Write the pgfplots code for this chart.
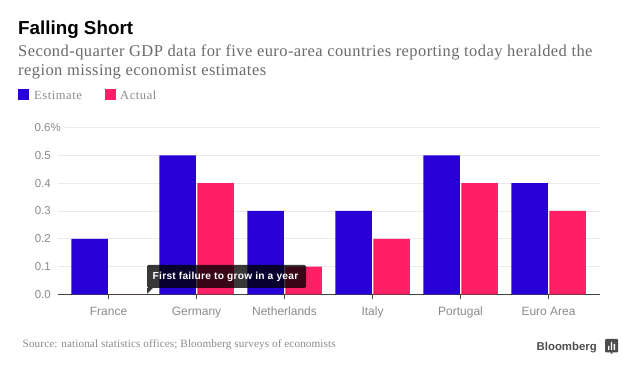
\documentclass[border=0pt]{standalone}
\usepackage{pgfplots}
\usepackage{fontspec}
\pgfplotsset{compat=1.18}
\setmainfont{Liberation Sans}
\newfontfamily\seriffont[LetterSpace=2.6]{Liberation Serif}
\newfontfamily\legfont[LetterSpace=4.5]{Liberation Serif}
\newfontfamily\srcfont[LetterSpace=0.9]{Liberation Serif}
\newfontfamily\notefont[LetterSpace=2.5]{Liberation Sans}
\definecolor{bblue}{HTML}{2800D7}
\definecolor{bred}{HTML}{FF1F66}
\definecolor{tickgray}{HTML}{8A8A8A}
\definecolor{subgray}{HTML}{6A6A6A}
\definecolor{gridc}{HTML}{E9E9EE}
\pgfplotstableread{
x est act
0 0.2 0
1 0.5 0.4
2 0.3 0.1
3 0.3 0.2
4 0.5 0.4
5 0.4 0.3
}\gdp
\begin{document}
\begin{tikzpicture}[x=1pt,y=1pt]
\path (0,0) rectangle (640,377);
\begin{axis}[
  at={(58pt,82.5pt)}, anchor=south west,
  scale only axis, width=542pt, height=167pt,
  xmin=-0.574, xmax=5.585, ymin=0, ymax=0.6,
  axis y line=none, axis x line*=bottom,
  axis line style={color=black!75, line width=0.9pt, -},
  xtick={0,1,2,3,4,5},
  xticklabels={France,Germany,Netherlands,Italy,Portugal,Euro Area},
  x tick style={color=black!70, line width=0.9pt},
  major tick length=5pt,
  tick align=outside,
  x tick label style={font=\fontsize{12}{12}\selectfont, text=tickgray, yshift=-3.5pt, text height=9pt, text depth=3pt},
  clip=false,
  ytick=\empty,
]
\foreach \v/\s in {0.1/0,0.2/0,0.3/0,0.4/0,0.5/0}{
  \edef\temp{\noexpand\draw[gridc,line width=0.8pt] (axis cs:-0.574,\v) -- (axis cs:5.585,\v);}
  \temp
}
\draw[gridc,line width=0.8pt] (axis cs:-0.5,0.6) -- (axis cs:5.585,0.6);
\addplot[ybar, bar width=36.5pt, bar shift=-18.8pt, fill=bblue, draw=none] table[x=x,y=est]{\gdp};
\addplot[ybar, bar width=36.5pt, bar shift=19pt, fill=bred, draw=none] table[x=x,y=act]{\gdp};
\end{axis}
\foreach \t/\y in {0.0/82.5,0.1/110.3,0.2/138.2,0.3/166,0.4/193.8,0.5/221.7}{
  \node[anchor=east,inner sep=0,text=tickgray,font=\fontsize{11.5}{12}\selectfont] at (51,\y) {\t};
}
\node[anchor=east,inner sep=0,text=tickgray,font=\fontsize{11.5}{12}\selectfont] at (61,249.5) {0.6\%};
% title block
\node[anchor=base west,inner sep=0,font=\bfseries\fontsize{18.8}{20}\selectfont] at (18,342) {Falling Short};
\node[anchor=base west,inner sep=0,text=subgray,font=\seriffont\fontsize{16.5}{18}\selectfont] at (18,320) {Second-quarter GDP data for five euro-area countries reporting today heralded the};
\node[anchor=base west,inner sep=0,text=subgray,font=\seriffont\fontsize{16.5}{18}\selectfont] at (18,301.5) {region missing economist estimates};
% legend
\fill[bblue] (18,276.5) rectangle (29,287.5);
\node[anchor=base west,inner sep=0,text=tickgray,font=\legfont\fontsize{12.5}{14}\selectfont] at (34,277) {Estimate};
\fill[bred] (104.5,276.5) rectangle (115.5,287.5);
\node[anchor=base west,inner sep=0,text=tickgray,font=\legfont\fontsize{12.5}{14}\selectfont] at (120,277) {Actual};
% annotation
\fill[black,opacity=0.78,rounded corners=1.5pt] (147,89) rectangle (306,112);
\fill[black,opacity=0.78] (147,89) -- (147,83) -- (153,89) -- cycle;
\node[anchor=base west,inner sep=0,text=white,font=\notefont\bfseries\fontsize{10.2}{11}\selectfont] at (152.5,97) {First failure to grow in a year};
% source
\node[anchor=base west,inner sep=0,text=tickgray,font=\srcfont\fontsize{11.2}{13}\selectfont] at (22.5,29.5) {Source: national statistics offices; Bloomberg surveys of economists};
% logo
\node[anchor=base east,inner sep=0,text=black!70,font=\bfseries\fontsize{11.4}{14}\selectfont] at (597,26) {Bloomberg};
\fill[black!70,rounded corners=1pt] (605,24.5) rectangle (618,38);
\fill[black!70] (610,24.5) -- (611.5,23) -- (613,24.5) -- cycle;
\fill[white] (608,27) rectangle (609.3,31) (610.9,27) rectangle (612.2,35) (613.7,27) rectangle (615,33);
\end{tikzpicture}
\end{document}
